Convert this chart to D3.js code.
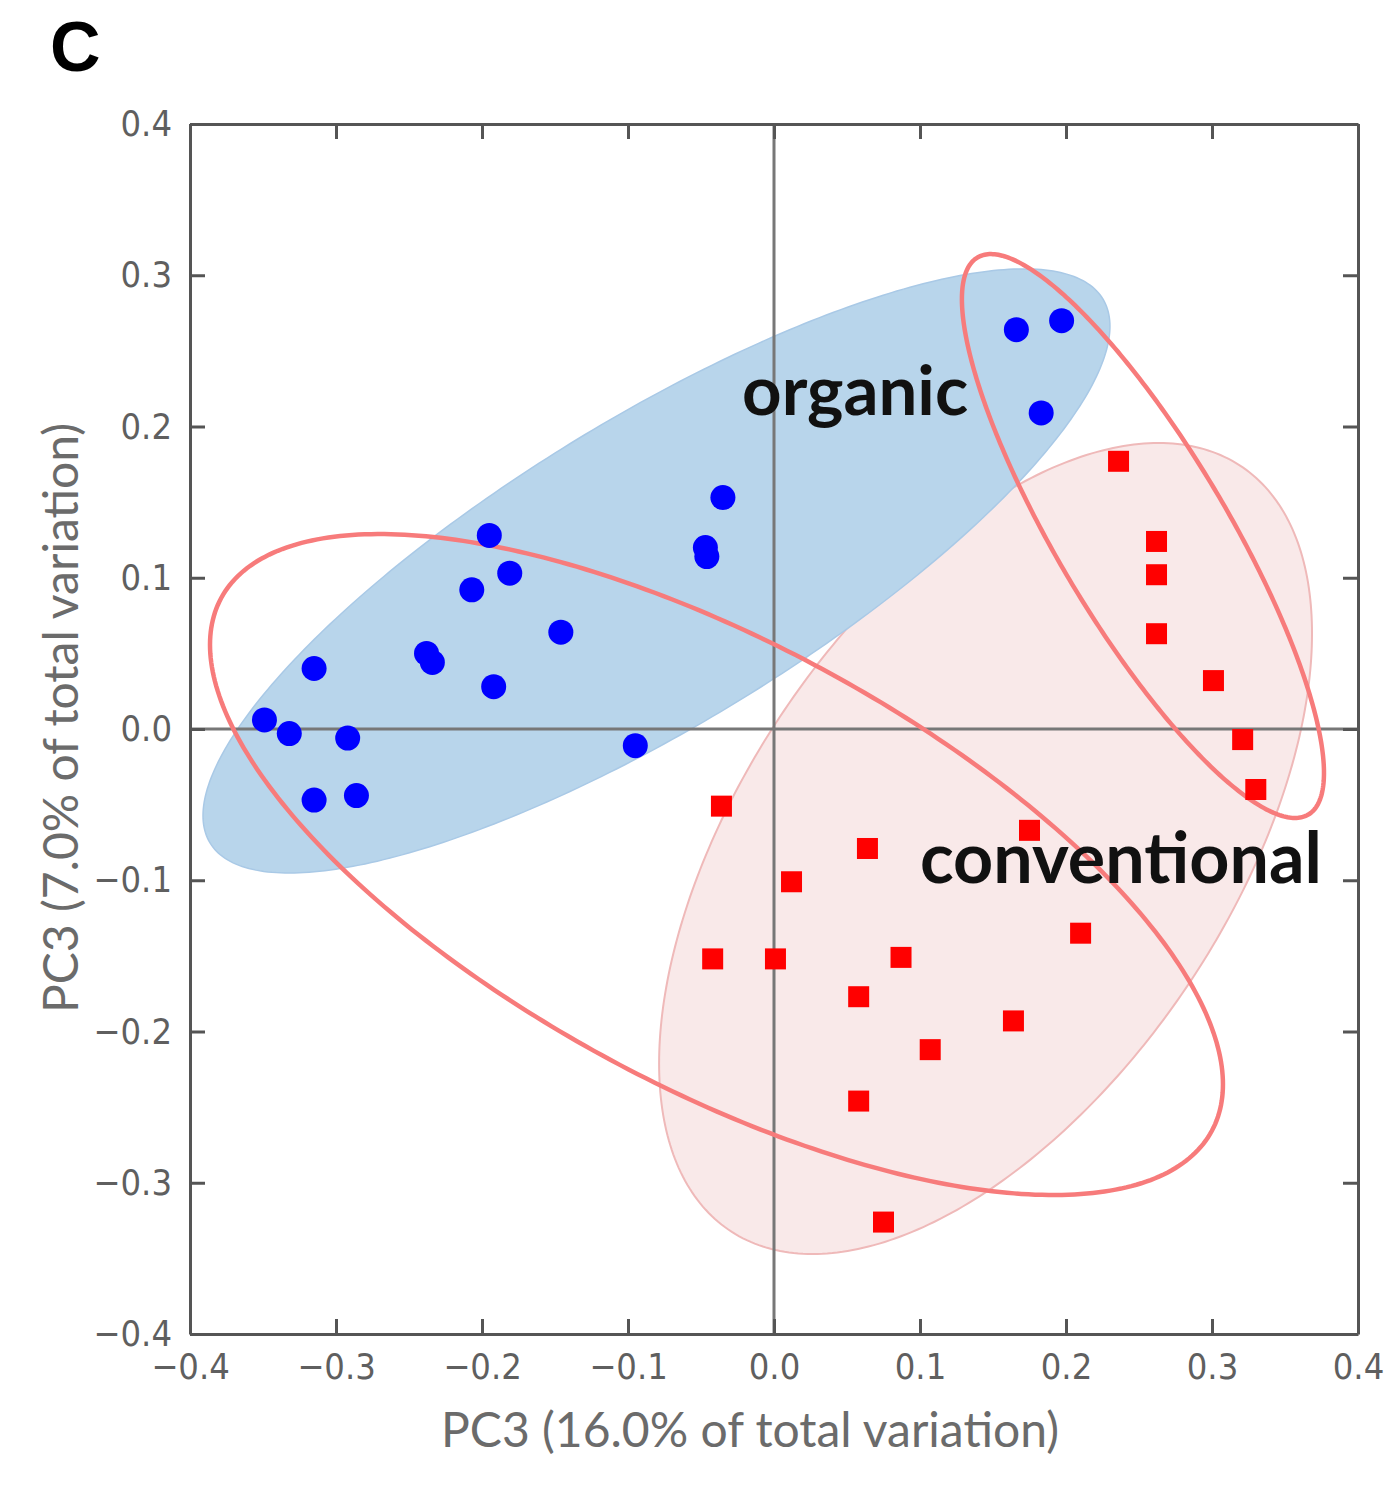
<!DOCTYPE html>
<html>
<head>
<meta charset="utf-8">
<script src="https://cdn.jsdelivr.net/npm/d3@7"></script>
<style>
  html, body { margin: 0; padding: 0; background: #fff; }
  svg { display: block; }
</style>
</head>
<body>
<svg id="chart" width="1395" height="1496"></svg>
<script>
// PCA scores: organic samples (circles)
const organicX = [0.166, 0.197, 0.183, -0.035, -0.047, -0.046, -0.195, -0.181, -0.207, -0.146,
                  -0.238, -0.234, -0.315, -0.192, -0.349, -0.332, -0.292, -0.095, -0.315, -0.286];
const organicY = [0.264, 0.270, 0.209, 0.153, 0.120, 0.114, 0.128, 0.103, 0.092, 0.064,
                  0.050, 0.044, 0.040, 0.028, 0.006, -0.003, -0.006, -0.011, -0.047, -0.044];

// PCA scores: conventional samples (squares)
const conventionalX = [0.236, 0.262, 0.262, 0.262, 0.301, 0.321, 0.330, -0.036, 0.175, 0.064,
                       0.012, -0.042, 0.001, 0.087, 0.058, 0.210, 0.164, 0.107, 0.058, 0.075];
const conventionalY = [0.177, 0.124, 0.102, 0.063, 0.032, -0.007, -0.040, -0.051, -0.067, -0.079,
                       -0.101, -0.152, -0.152, -0.151, -0.177, -0.135, -0.193, -0.212, -0.246, -0.326];

// Group ellipses: [centre x, centre y, half-width x, half-height y, correlation]
const organicEllipse      = [-0.0805, 0.1045, 0.3106, 0.1997, 0.81];
const conventionalEllipse = [0.1449, -0.0790, 0.2236, 0.2681, 0.53];
// Highlighted subsets (outlined only)
const outlineEllipses = [
  [-0.0394, -0.0896, 0.3469, 0.2185, -0.665],
  [0.2527, 0.1276, 0.1240, 0.1864, -0.84]
];

const xTicks = [-0.4, -0.3, -0.2, -0.1, 0.0, 0.1, 0.2, 0.3, 0.4];
const yTicks = [-0.4, -0.3, -0.2, -0.1, 0.0, 0.1, 0.2, 0.3, 0.4];
const xTitle = "PC3 (16.0% of total variation)";
const yTitle = "PC3 (7.0% of total variation)";
const groupLabels = ["organic", "conventional"];
const panelLabel = "C";

(function draw() {
  const svg = d3.select("#chart");
  const mLeft = 190, mRight = 1358, mTop = 124, mBottom = 1334;

  const x = d3.scaleLinear().domain([-0.4, 0.4]).range([mLeft, mRight]);
  const y = d3.scaleLinear().domain([-0.4, 0.4]).range([mBottom, mTop]);
  const fmt = d3.format(".1f");

  // Ellipse outline from its extents and correlation
  function ellipsePath(e) {
    const [cx, cy, sx, sy, rho] = e;
    const delta = Math.acos(rho);
    const pts = d3.range(0, 361).map(i => {
      const t = i * Math.PI / 180;
      return [cx + sx * Math.cos(t), cy + sy * Math.cos(t - delta)];
    });
    return d3.line().x(d => x(d[0])).y(d => y(d[1]))(pts) + "Z";
  }

  // Filled group regions
  svg.append("path")
    .attr("d", ellipsePath(conventionalEllipse))
    .attr("fill", "#f9e9e9")
    .attr("stroke", "#efb9b9").attr("stroke-width", 2);

  svg.append("path")
    .attr("d", ellipsePath(organicEllipse))
    .attr("fill", "#b8d5eb")
    .attr("stroke", "#a9c9e6").attr("stroke-width", 1.5);

  // Zero lines
  svg.append("line")
    .attr("x1", x(0)).attr("x2", x(0)).attr("y1", mTop).attr("y2", mBottom)
    .attr("stroke", "#777").attr("stroke-width", 3);
  svg.append("line")
    .attr("x1", mLeft).attr("x2", mRight).attr("y1", y(0)).attr("y2", y(0))
    .attr("stroke", "#777").attr("stroke-width", 3);

  // Outlined subsets
  svg.selectAll("path.outline").data(outlineEllipses).join("path")
    .attr("class", "outline")
    .attr("d", ellipsePath)
    .attr("fill", "none")
    .attr("stroke", "#f77b7b").attr("stroke-width", 4.5);

  // Axes with inward ticks on all four sides
  const tickFont = "'DejaVu Sans Condensed','DejaVu Sans',sans-serif";
  function styleAxis(g) {
    g.select(".domain").attr("stroke", "#555").attr("stroke-width", 3);
    g.selectAll(".tick line").attr("stroke", "#555").attr("stroke-width", 3);
    g.selectAll(".tick text")
      .attr("fill", "#5f5f5f")
      .style("font-family", tickFont)
      .style("font-stretch", "condensed")
      .style("font-size", "36px");
  }

  svg.append("g").attr("transform", `translate(0,${mBottom})`)
    .call(d3.axisBottom(x).tickValues(xTicks).tickFormat(fmt)
      .tickSizeInner(-15).tickSizeOuter(0).tickPadding(19))
    .call(styleAxis);
  svg.append("g").attr("transform", `translate(0,${mTop})`)
    .call(d3.axisTop(x).tickValues(xTicks).tickFormat("")
      .tickSizeInner(-15).tickSizeOuter(0))
    .call(styleAxis);
  svg.append("g").attr("transform", `translate(${mLeft},0)`)
    .call(d3.axisLeft(y).tickValues(yTicks).tickFormat(fmt)
      .tickSizeInner(-15).tickSizeOuter(0).tickPadding(18))
    .call(styleAxis);
  svg.append("g").attr("transform", `translate(${mRight},0)`)
    .call(d3.axisRight(y).tickValues(yTicks).tickFormat("")
      .tickSizeInner(-15).tickSizeOuter(0))
    .call(styleAxis);

  // Sample points
  svg.selectAll("circle.organic").data(organicX).join("circle")
    .attr("class", "organic")
    .attr("cx", d => x(d))
    .attr("cy", (d, i) => y(organicY[i]))
    .attr("r", 12.5)
    .attr("fill", "#0000ff");

  const sq = 21;
  svg.selectAll("rect.conventional").data(conventionalX).join("rect")
    .attr("class", "conventional")
    .attr("x", d => x(d) - sq / 2)
    .attr("y", (d, i) => y(conventionalY[i]) - sq / 2)
    .attr("width", sq).attr("height", sq)
    .attr("fill", "#ff0000");

  // Group labels
  svg.append("text")
    .attr("x", 742).attr("y", 415)
    .style("font-family", "Lato, 'Open Sans', sans-serif")
    .style("font-weight", "bold").style("font-size", "69px")
    .attr("fill", "#111")
    .text(groupLabels[0]);
  svg.append("text")
    .attr("x", 920).attr("y", 883)
    .style("font-family", "Lato, 'Open Sans', sans-serif")
    .style("font-weight", "bold").style("font-size", "70px")
    .attr("fill", "#111")
    .text(groupLabels[1]);

  // Axis titles
  svg.append("text")
    .attr("x", (mLeft + mRight) / 2 - 24).attr("y", 1447)
    .attr("text-anchor", "middle")
    .style("font-family", "Lato, sans-serif").style("font-size", "48px")
    .attr("fill", "#6b6b6b")
    .text(xTitle);
  svg.append("text")
    .attr("transform", `translate(78,718) rotate(-90)`)
    .attr("text-anchor", "middle")
    .style("font-family", "Lato, sans-serif").style("font-size", "48px")
    .attr("fill", "#6b6b6b")
    .text(yTitle);

  // Panel letter
  svg.append("text")
    .attr("x", 50).attr("y", 71)
    .style("font-family", "'Liberation Sans', Arial, sans-serif")
    .style("font-weight", "bold").style("font-size", "70px")
    .attr("fill", "#000")
    .text(panelLabel);
})();
</script>
</body>
</html>
